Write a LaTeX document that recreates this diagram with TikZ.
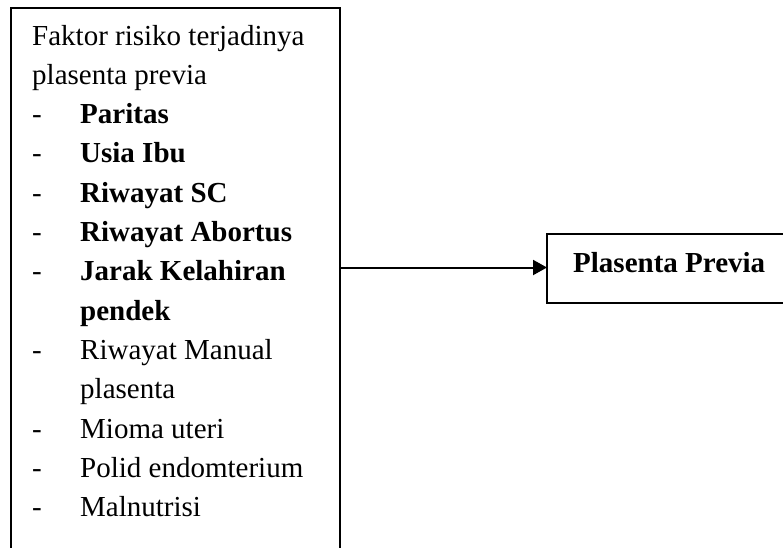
\documentclass[tikz,border=0pt]{standalone}
\usepackage{fontspec}
\setmainfont{Liberation Serif}
\usetikzlibrary{arrows.meta}
\begin{document}
\begin{tikzpicture}[x=1pt,y=-1pt,
  boxstyle/.style={draw,line width=2pt,inner sep=0pt,outer sep=0pt,rectangle},
  txt/.style={anchor=base west,inner sep=0pt,font=\fontsize{29}{35}\selectfont},
  btxt/.style={txt,font=\fontsize{29}{35}\selectfont\bfseries},
  dsh/.style={anchor=base west,inner sep=0pt,font=\fontsize{29}{35}\selectfont}]
\useasboundingbox (0,0) rectangle (783,547);
\clip (0,0) rectangle (783,547);
\fill[white] (0,0) rectangle (783,547);
\node[boxstyle,anchor=north west,minimum width=329pt,minimum height=580pt] (L) at (11,8) {};
\node[boxstyle,anchor=north west,minimum width=280pt,minimum height=69pt] (R) at (547,234) {};
\node[txt] (t0) at (32,45) {Faktor risiko terjadinya};
\node[txt] (t1) at (32,84.5) {plasenta previa};
\foreach \i in {2,3,4,5,6,8,10,11,12}{
  \node[dsh] (d\i) at (32,45+39.33*\i) {-};
}
\node[btxt] (a2) at (80,45+39.33*2) {Paritas};
\node[btxt] (a3) at (80,45+39.33*3) {Usia Ibu};
\node[btxt] (a4) at (80,45+39.33*4) {Riwayat SC};
\node[btxt] (a5) at (80,45+39.33*5) {Riwayat Abortus};
\node[btxt] (a6) at (80,45+39.33*6) {Jarak Kelahiran};
\node[btxt] (a7) at (80,45+39.33*7) {pendek};
\node[txt] (a8) at (80,45+39.33*8) {Riwayat Manual};
\node[txt] (a9) at (80,45+39.33*9) {plasenta};
\node[txt] (a10) at (80,45+39.33*10) {Mioma uteri};
\node[txt] (a11) at (80,45+39.33*11) {Polid endomterium};
\node[txt] (a12) at (80,45+39.33*12) {Malnutrisi};
\node[btxt] (rt) at (573,272.5) {Plasenta Previa};
\coordinate (start) at (L.east |- 0,267.5);
\coordinate (end) at (R.west |- 0,267.5);
\draw[line width=2pt,-{Triangle[length=14pt,width=15pt]}] (start) -- (end);
\end{tikzpicture}
\end{document}
